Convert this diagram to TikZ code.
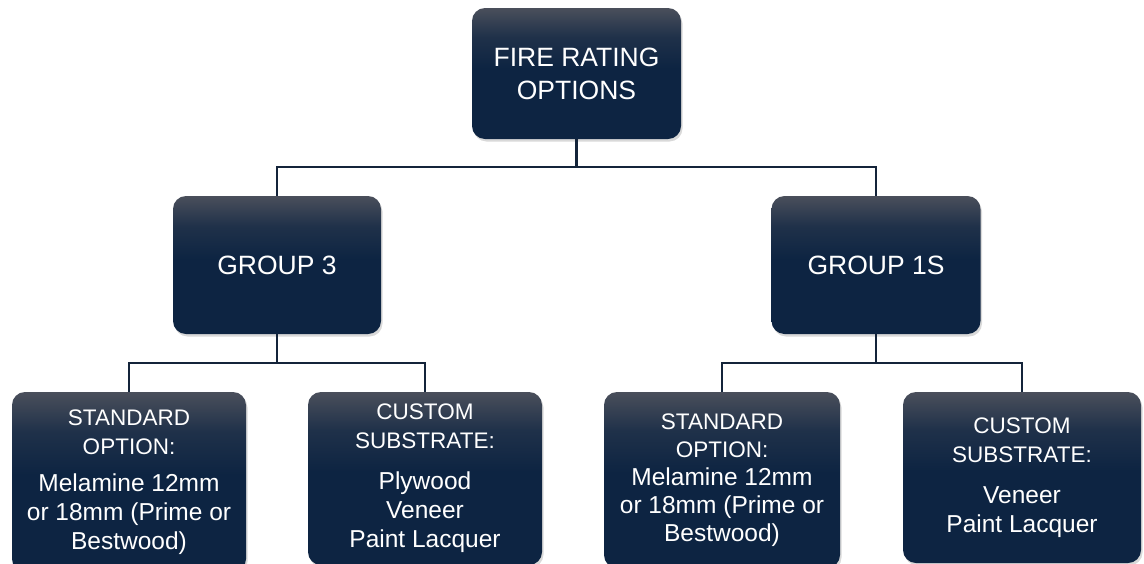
\documentclass[tikz,border=0pt]{standalone}
\usepackage{fontspec}
\setmainfont{Liberation Sans}
\usetikzlibrary{shadows}

\definecolor{boxtop}{RGB}{74,79,91}
\definecolor{boxnavy}{RGB}{13,36,66}
\definecolor{linknavy}{RGB}{20,36,58}
\pgfdeclareverticalshading{boxshade}{100bp}{color(0bp)=(boxnavy); color(25bp)=(boxnavy);
    color(52bp)=(boxnavy); color(64bp)=(boxnavy!70!boxtop); color(75bp)=(boxtop); color(100bp)=(boxtop)}
\newcommand{\bodyfont}{\fontsize{24.5}{29}\selectfont}

\begin{document}
\begin{tikzpicture}[x=1pt, y=-1pt,
    chartbox/.style = {shading=boxshade, rounded corners=13pt, text=white,
        align=center, inner sep=0pt,
        drop shadow={opacity=0.3, shadow xshift=1.5pt, shadow yshift=-2.5pt}},
    headbox/.style = {chartbox, font=\fontsize{26.5}{33}\selectfont},
    leafbox/.style = {chartbox, font=\fontsize{22.5}{29}\selectfont},
    link/.style = {draw=linknavy, line width=2.2pt}]
    \useasboundingbox (0,0) rectangle (1144,563);
    \clip (0,0) rectangle (1144,563);

    \node[headbox, minimum width=209pt, minimum height=131pt] (fire) at (576.5, 73.5) {FIRE RATING\\OPTIONS};
    \node[headbox, minimum width=208pt, minimum height=138pt] (g3) at (277, 265) {GROUP 3};
    \node[headbox, minimum width=209pt, minimum height=138pt] (g1s) at (876, 265) {GROUP 1S};

    % bottom row runs off the page
    \node[leafbox, minimum width=234pt, minimum height=180pt] (std3) at (129, 482)
        {STANDARD\\OPTION:\\[8pt]\bodyfont Melamine 12mm\\\bodyfont or 18mm (Prime or\\\bodyfont Bestwood)};
    \node[leafbox, minimum width=234pt, minimum height=173pt] (cus3) at (425, 478.5)
        {CUSTOM\\SUBSTRATE:\\[12pt]\bodyfont Plywood\\\bodyfont Veneer\\\bodyfont Paint Lacquer};
    \node[leafbox, minimum width=236pt, minimum height=176pt, font=\fontsize{22.5}{28}\selectfont] (std1s) at (722, 480)
        {STANDARD\\OPTION:\\\bodyfont Melamine 12mm\\\bodyfont or 18mm (Prime or\\\bodyfont Bestwood)};
    \node[leafbox, minimum width=238pt, minimum height=171pt] (cus1s) at (1022, 477.5)
        {CUSTOM\\SUBSTRATE:\\[12pt]\bodyfont Veneer\\\bodyfont Paint Lacquer};

    \draw[link] (fire.south) -- ++(0,28) -| (g3.north);
    \draw[link] (fire.south) -- ++(0,28) -| (g1s.north);
    \draw[link] (g3.south) -- ++(0,29) -| (std3.north);
    \draw[link] (g3.south) -- ++(0,29) -| (cus3.north);
    \draw[link] (g1s.south) -- ++(0,29) -| (std1s.north);
    \draw[link] (g1s.south) -- ++(0,29) -| (cus1s.north);
\end{tikzpicture}
\end{document}
